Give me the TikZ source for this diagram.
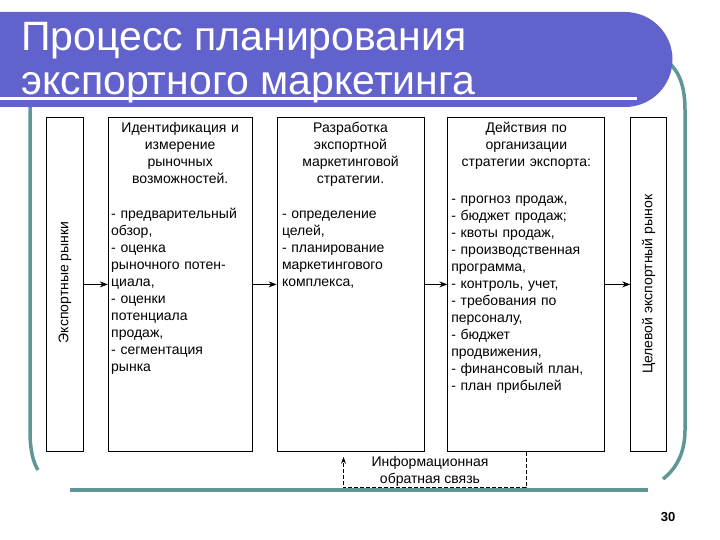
\documentclass[tikz,border=0pt]{standalone}
\usepackage{fontspec}
\setmainfont{Liberation Sans}
\usepackage{xcolor}
\usepackage{tikz}
\usetikzlibrary{arrows.meta,positioning,calc}
\definecolor{titleblue}{RGB}{98,98,204}
\definecolor{frameteal}{RGB}{96,150,150}
\setlength{\parindent}{0pt}

\begin{document}
\begin{tikzpicture}[x=1pt,y=-1pt,box/.style={draw,line width=0.8pt,inner sep=0pt,minimum height=334pt},txt/.style={inner sep=0pt,font=\fontsize{14}{17}\selectfont},body/.style={txt,anchor=north,text width=#1},arr/.style={-{Stealth[length=8pt,width=6pt]},line width=0.8pt},fb/.style={-{Stealth[length=7pt,width=5pt]},dash pattern=on 4pt off 2pt,line width=1.2pt}]
\useasboundingbox (0,0) rectangle (720,540);
% frame and title banner
\draw[frameteal,line width=3.5pt] (30,100) -- (30,430) .. controls (30,450) and (33,462) .. (38,470);
\draw[frameteal,line width=3.5pt] (668,62) .. controls (680,72) and (685,88) .. (685,110) -- (685,430) .. controls (685,452) and (677,468) .. (663,479);
\draw[frameteal,line width=3.5pt] (70,490) -- (648,490);
\fill[titleblue] (0,12) -- (625,12) arc[start angle=90,end angle=-90,radius=47.5pt] -- (0,107) -- cycle;
\draw[white,line width=2.5pt] (0,98.5) -- (637,98.5);
\node[anchor=base west,inner sep=0pt,text=white,font=\fontsize{41}{45}\selectfont](ttl1) at (21,51){Процесс планирования};
\node[anchor=base west,inner sep=0pt,text=white,font=\fontsize{41}{45}\selectfont](ttl2) at (21,95){экспортного маркетинга};
% boxes
\node[box,minimum width=37pt,anchor=north west](rynki) at (46,117){};
\node[box,minimum width=144pt,right=24pt of rynki](ident){};
\node[box,minimum width=147pt,right=24pt of ident](razrab){};
\node[box,minimum width=157pt,right=23pt of razrab](deistv){};
\node[box,minimum width=36pt,right=25pt of deistv](tsel){};
\node[txt,rotate=90](rynkitxt) at ([yshift=2pt]rynki.center){Экспортные рынки};
\node[txt,rotate=90](tseltxt) at (tsel.center){Целевой экспортный рынок};
\node[body=138pt](identtxt) at ([yshift=-5pt]ident.north){{\centering Идентификация и\\измерение\\рыночных\\возможностей.\par}\vspace{18pt}\raggedright - предварительный\\обзор,\\- оценка\\рыночного потен-\\циала,\\- оценки\\потенциала\\продаж,\\- сегментация\\рынка};
\node[body=137pt](razrabtxt) at ([yshift=-5pt]razrab.north){{\centering Разработка\\экспортной\\маркетинговой\\стратегии.\par}\vspace{18pt}\raggedright - определение\\целей,\\- планирование\\маркетингового\\комплекса,};
\node[body=150pt](deistvtxt) at ([yshift=-5pt]deistv.north){{\centering Действия по\\организации\\стратегии экспорта:\par}\vspace{20pt}\raggedright - прогноз продаж,\\- бюджет продаж;\\- квоты продаж,\\- производственная\\программа,\\- контроль, учет,\\- требования по\\персоналу,\\- бюджет\\продвижения,\\- финансовый план,\\- план прибылей};
\draw[arr](rynki)--(ident); \draw[arr](ident)--(razrab); \draw[arr](razrab)--(deistv); \draw[arr](deistv)--(tsel);
% feedback loop
\coordinate (fbin) at ([xshift=-7pt,yshift=-5pt]razrab.south);
\draw[fb](deistv.south) -- ++(0,36) -| (fbin);
\node[txt,align=center](fblabel) at (430,471){Информационная\\обратная связь};
\node[inner sep=0pt,font=\fontsize{13}{15}\selectfont\bfseries](pagenum) at (668,517){30};
\end{tikzpicture}
\end{document}
